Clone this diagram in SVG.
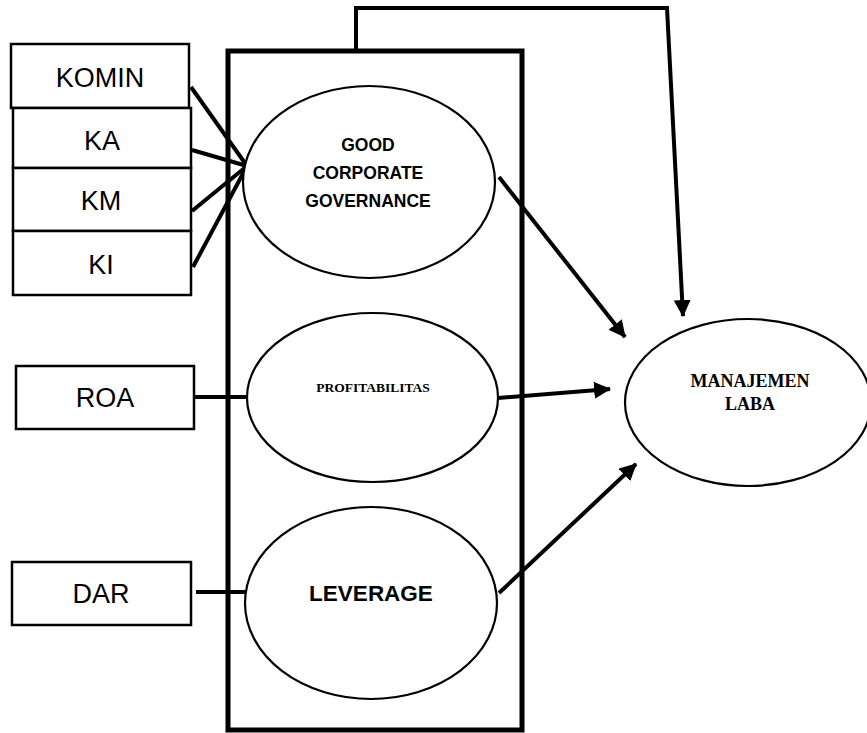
<svg xmlns="http://www.w3.org/2000/svg" width="867" height="733" viewBox="0 0 867 733">
  <style>
    .box { fill: #fff; stroke: #000; stroke-width: 2.5; }
    .ell { fill: #fff; stroke: #000; stroke-width: 2.2; }
    .lbl { font-family: "Liberation Sans", Arial, sans-serif; font-size: 27px; fill: #000; text-anchor: middle; }
    .bold { font-family: "Liberation Sans", Arial, sans-serif; font-weight: bold; fill: #000; text-anchor: middle; }
    .serif { font-family: "Liberation Serif", "Times New Roman", serif; font-weight: bold; fill: #000; text-anchor: middle; }
    .conn { fill: none; stroke: #000; stroke-width: 4; }
    .arrow { fill: none; stroke: #000; stroke-width: 4; marker-end: url(#ah); }
  </style>
  <defs>
    <marker id="ah" markerUnits="userSpaceOnUse" markerWidth="17" markerHeight="17" viewBox="0 0 16 16" refX="15" refY="8" orient="auto">
      <path d="M0,0 L16,8 L0,16 z" fill="#000"/>
    </marker>
  </defs>

  <g id="frame">
    <rect x="228" y="51" width="294" height="679" fill="none" stroke="#000" stroke-width="5"/>
  </g>

  <g id="connectors">
    <line class="conn" x1="191" y1="87" x2="247" y2="166"/>
    <line class="conn" x1="192" y1="150" x2="247" y2="166"/>
    <line class="conn" x1="192" y1="211" x2="247" y2="166"/>
    <line class="conn" x1="193" y1="267" x2="247" y2="166"/>
    <line class="conn" x1="194" y1="397" x2="248" y2="397"/>
    <line class="conn" x1="196" y1="592" x2="249" y2="592"/>
    <polyline class="arrow" points="356,51 356,8 667,8 683,316"/>
    <line class="arrow" x1="499" y1="177" x2="625" y2="337"/>
    <line class="arrow" x1="498" y1="398" x2="610" y2="389"/>
    <line class="arrow" x1="499" y1="593" x2="636" y2="464"/>
  </g>

  <g id="komin">
    <rect class="box" x="11" y="44" width="178" height="64"/>
    <text class="lbl" x="100" y="87">KOMIN</text>
  </g>
  <g id="ka">
    <rect class="box" x="13" y="108" width="178" height="60"/>
    <text class="lbl" x="102" y="150">KA</text>
  </g>
  <g id="km">
    <rect class="box" x="13" y="168" width="178" height="63"/>
    <text class="lbl" x="101" y="210">KM</text>
  </g>
  <g id="ki">
    <rect class="box" x="13" y="231" width="178" height="64"/>
    <text class="lbl" x="101" y="274">KI</text>
  </g>
  <g id="roa">
    <rect class="box" x="16" y="366" width="178" height="63"/>
    <text class="lbl" x="105" y="407">ROA</text>
  </g>
  <g id="dar">
    <rect class="box" x="12" y="562" width="179" height="63"/>
    <text class="lbl" x="101" y="603">DAR</text>
  </g>

  <g id="gcg">
    <ellipse class="ell" cx="369" cy="182" rx="126" ry="96"/>
    <text class="bold" x="368" y="151" font-size="17.5">GOOD</text>
    <text class="bold" x="368" y="179" font-size="17.5">CORPORATE</text>
    <text class="bold" x="368" y="207" font-size="17.5">GOVERNANCE</text>
  </g>
  <g id="profitabilitas">
    <ellipse class="ell" cx="372.5" cy="397.5" rx="125.5" ry="84.5"/>
    <text class="serif" x="373" y="392" font-size="13.5">PROFITABILITAS</text>
  </g>
  <g id="leverage">
    <ellipse class="ell" cx="371" cy="603" rx="126" ry="96"/>
    <text class="bold" x="371" y="601" font-size="22.5">LEVERAGE</text>
  </g>
  <g id="manajemen-laba">
    <ellipse class="ell" cx="748" cy="402.5" rx="123" ry="83.5"/>
    <text class="serif" x="750" y="387" font-size="18">MANAJEMEN</text>
    <text class="serif" x="750" y="410" font-size="18">LABA</text>
  </g>
</svg>
